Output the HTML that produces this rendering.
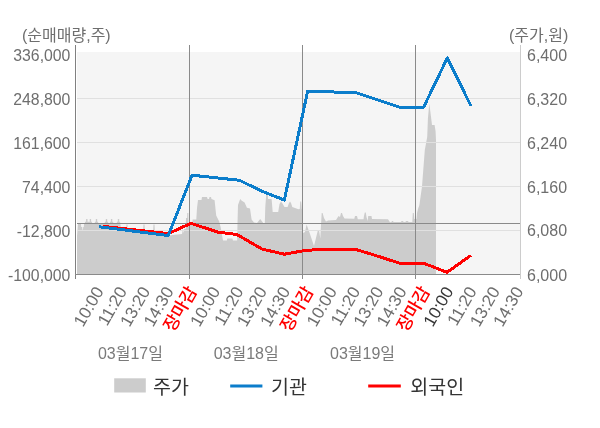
<!DOCTYPE html>
<html lang="ko"><head><meta charset="utf-8"><title>chart</title>
<style>
html,body{margin:0;padding:0;background:#fff;}
body{width:600px;height:428px;overflow:hidden;}
svg{display:block;font-family:"Liberation Sans", "Noto Sans CJK KR", sans-serif;}
</style></head><body>
<svg width="600" height="428" viewBox="0 0 600 428">
<rect x="0" y="0" width="600" height="428" fill="#ffffff"/>
<rect x="77" y="52" width="443" height="222" fill="#f5f5f5"/>
<path d="M77,274 L77,236 L78,224 L81,224 L81.2,227 L82.2,227 L82.4,229.8 L83,229.8 L83.2,227 L83.8,227 L84,224 L84.8,224 L85,221.7 L86.1,221.7 L86.1,219 L87.5,219 L87.5,221.7 L89.7,221.7 L89.7,219 L91.1,219 L91.1,221.7 L92,221.7 L92.2,224 L94.7,224 L94.9,221.7 L95.8,221.7 L95.8,219 L97.2,219 L97.2,221.7 L98.1,221.7 L98.3,224 L104.7,224 L104.9,221.7 L105.8,221.7 L105.8,219 L107.2,219 L107.2,221.7 L108.1,221.7 L108.3,224 L109.8,224 L110.0,221.7 L110.89999999999999,221.7 L110.89999999999999,219 L112.3,219 L112.3,221.7 L113.19999999999999,221.7 L113.39999999999999,224 L116.7,224 L116.9,221.7 L117.8,221.7 L117.8,219 L119.2,219 L119.2,221.7 L120.1,221.7 L120.3,224 L121,228 L126.5,229 L126.5,224.5 L127.5,224.5 L127.5,229 L143,231.5 L143.5,224.5 L144.5,224.5 L145,232 L153,233 L153.5,224.5 L154.5,224.5 L155,233.5 L168,236 L172,235 L182,234 L182.8,229 L183.5,233 L184.2,229 L185.8,229 L186,218 L187.2,218 L187.3,213 L188.3,213 L188.5,223 L192.4,223 L192.6,219.5 L196.3,219.5 L197,208 L198,200 L201.5,200 L202,197 L207,197 L207.6,199 L209,199 L209.5,197 L211,197 L211.5,199 L214.6,200.2 L216.2,215.4 L219.2,221.5 L220.7,227.5 L223,240.5 L226.8,240.5 L227.3,238.4 L232.4,238.4 L233,240.5 L237.2,240.5 L237.5,223 L238,205 L240.2,199 L241.5,200.5 L244.6,202.5 L246.9,207.7 L250,208.5 L251.6,219.5 L254,222.6 L257,223 L260.2,219 L263.3,223 L264.8,223 L265.3,207 L266.2,195 L267.8,195 L268,199 L271.6,199 L272.7,212 L278.2,212 L279.5,204 L281,201.5 L282.5,203.5 L284.5,207 L287.6,207 L289,203 L290,201.5 L291,203 L292.3,207 L298.5,209.3 L299.8,209 L300.2,201.5 L301.2,201.5 L301.8,209 L302.5,209 L303,233 L305,232 L306.6,224.5 L310,234 L314,246 L317.7,231 L319,230 L320.3,238.5 L321,225 L321.7,213 L322.6,213 L324,218 L326,221.6 L328.2,220.5 L336,220 L337.3,218 L338.5,216 L340,217 L341,213 L342,213 L343,216 L344.5,218.5 L354.3,218.8 L355,216 L357,216 L357.8,219.3 L363.5,219.3 L364,216 L364.8,212.5 L365.8,212.5 L366.5,217 L367.7,221 L368.2,216 L371.5,216 L372,219 L388,219.3 L390,222.3 L391.5,222 L392,221 L393,221 L393.5,222 L401,222 L401.5,221 L403,221 L403.5,222 L405.5,222 L406,221 L408,221 L408.5,222 L412.3,222 L412.8,213 L413.8,213 L414.3,219 L416.5,219 L417,213 L418,209 L419.4,205 L422,186.5 L424.8,150 L427.2,137 L427.9,118.8 L429.3,103.4 L430,109 L431.4,120 L432,125 L434.6,125 L435.6,131.5 L436,140 L436,274 Z" fill="#cccccc"/>
<rect x="77" y="98" width="443" height="1" fill="#e0e0e0"/><rect x="77" y="142" width="443" height="1" fill="#e0e0e0"/><rect x="77" y="186" width="443" height="1" fill="#e0e0e0"/><rect x="77" y="230" width="443" height="1" fill="#e0e0e0"/>
<rect x="77" y="223" width="443" height="1" fill="#8a8a8a"/>
<rect x="189" y="45" width="1" height="234" fill="#8a8a8a"/>
<rect x="302" y="45" width="1" height="234" fill="#8a8a8a"/>
<rect x="415" y="45" width="1" height="234" fill="#8a8a8a"/>
<rect x="75" y="45" width="1" height="234" fill="#808080"/>
<rect x="520" y="45" width="1" height="234" fill="#cccccc"/>
<rect x="75" y="274" width="445" height="1" fill="#8a8a8a"/>
<polyline points="103,226.3 168.3,233.6 191,223.3 218,232.2 236.7,234.4 262,249 284.4,254.2 306,250.3 330,249.2 355,249.2 376,255.6 400,263.3 423.8,263.3 447,272.3 471,255.3" fill="none" stroke="#ff0000" stroke-width="3" stroke-linejoin="round" shape-rendering="crispEdges"/>
<polyline points="99,226.7 168.3,235.6 192,175.2 239.5,180.3 261.5,191 284.3,200 307.6,91.4 355.7,92.5 399.7,107.2 423.6,107.2 447.3,58 471,106" fill="none" stroke="#0b7dcb" stroke-width="3" stroke-linejoin="round" shape-rendering="crispEdges"/>
<text x="22" y="40.8" font-size="16" fill="#6e6e6e">(순매매량,주)</text>
<text x="509" y="40.8" font-size="16" fill="#6e6e6e">(주가,원)</text>
<text x="70.4" y="61" text-anchor="end" font-size="15.8" fill="#6e6e6e">336,000</text>
<text x="70.4" y="105" text-anchor="end" font-size="15.8" fill="#6e6e6e">248,800</text>
<text x="70.4" y="149" text-anchor="end" font-size="15.8" fill="#6e6e6e">161,600</text>
<text x="70.4" y="193" text-anchor="end" font-size="15.8" fill="#6e6e6e">74,400</text>
<text x="70.4" y="236.5" text-anchor="end" font-size="15.8" fill="#6e6e6e">-12,800</text>
<text x="70.4" y="281" text-anchor="end" font-size="15.8" fill="#6e6e6e">-100,000</text>
<text x="527" y="61" font-size="16" fill="#6e6e6e">6,400</text>
<text x="527" y="105" font-size="16" fill="#6e6e6e">6,320</text>
<text x="527" y="149" font-size="16" fill="#6e6e6e">6,240</text>
<text x="527" y="193" font-size="16" fill="#6e6e6e">6,160</text>
<text x="527" y="236.4" font-size="16" fill="#6e6e6e">6,080</text>
<text x="527" y="281" font-size="16" fill="#6e6e6e">6,000</text>
<text transform="translate(104.20,291) rotate(-60)" text-anchor="end" font-size="17" font-weight="400" fill="#6e6e6e">10:00</text>
<text transform="translate(127.52,291) rotate(-60)" text-anchor="end" font-size="17" font-weight="400" fill="#6e6e6e">11:20</text>
<text transform="translate(150.83,291) rotate(-60)" text-anchor="end" font-size="17" font-weight="400" fill="#6e6e6e">13:20</text>
<text transform="translate(174.15,291) rotate(-60)" text-anchor="end" font-size="17" font-weight="400" fill="#6e6e6e">14:30</text>
<text transform="translate(197.46,291) rotate(-60)" text-anchor="end" font-size="17.5" font-weight="500" fill="#ff0000">장마감</text>
<text transform="translate(220.78,291) rotate(-60)" text-anchor="end" font-size="17" font-weight="400" fill="#6e6e6e">10:00</text>
<text transform="translate(244.10,291) rotate(-60)" text-anchor="end" font-size="17" font-weight="400" fill="#6e6e6e">11:20</text>
<text transform="translate(267.41,291) rotate(-60)" text-anchor="end" font-size="17" font-weight="400" fill="#6e6e6e">13:20</text>
<text transform="translate(290.73,291) rotate(-60)" text-anchor="end" font-size="17" font-weight="400" fill="#6e6e6e">14:30</text>
<text transform="translate(314.04,291) rotate(-60)" text-anchor="end" font-size="17.5" font-weight="500" fill="#ff0000">장마감</text>
<text transform="translate(337.36,291) rotate(-60)" text-anchor="end" font-size="17" font-weight="400" fill="#6e6e6e">10:00</text>
<text transform="translate(360.68,291) rotate(-60)" text-anchor="end" font-size="17" font-weight="400" fill="#6e6e6e">11:20</text>
<text transform="translate(383.99,291) rotate(-60)" text-anchor="end" font-size="17" font-weight="400" fill="#6e6e6e">13:20</text>
<text transform="translate(407.31,291) rotate(-60)" text-anchor="end" font-size="17" font-weight="400" fill="#6e6e6e">14:30</text>
<text transform="translate(430.62,291) rotate(-60)" text-anchor="end" font-size="17.5" font-weight="500" fill="#ff0000">장마감</text>
<text transform="translate(453.94,291) rotate(-60)" text-anchor="end" font-size="17" font-weight="500" fill="#383838">10:00</text>
<text transform="translate(477.26,291) rotate(-60)" text-anchor="end" font-size="17" font-weight="400" fill="#6e6e6e">11:20</text>
<text transform="translate(500.57,291) rotate(-60)" text-anchor="end" font-size="17" font-weight="400" fill="#6e6e6e">13:20</text>
<text transform="translate(523.89,291) rotate(-60)" text-anchor="end" font-size="17" font-weight="400" fill="#6e6e6e">14:30</text>

<text x="97.9" y="359.4" font-size="16" fill="#7a7a7a">03월17일</text>
<text x="213.7" y="359.4" font-size="16" fill="#7a7a7a">03월18일</text>
<text x="330" y="359.4" font-size="16" fill="#7a7a7a">03월19일</text>
<rect x="114.2" y="378.3" width="31.6" height="14.2" fill="#cccccc"/>
<text x="153" y="393.7" font-size="19.5" font-weight="400" fill="#333333">주가</text>
<rect x="230.2" y="384.5" width="32.2" height="3" fill="#0b7dcb"/>
<text x="271" y="393.7" font-size="19.5" font-weight="400" fill="#333333">기관</text>
<rect x="368.2" y="384.5" width="32.6" height="3" fill="#ff0000"/>
<text x="410.3" y="393.7" font-size="19.5" font-weight="400" fill="#333333">외국인</text>
</svg>
</body></html>
